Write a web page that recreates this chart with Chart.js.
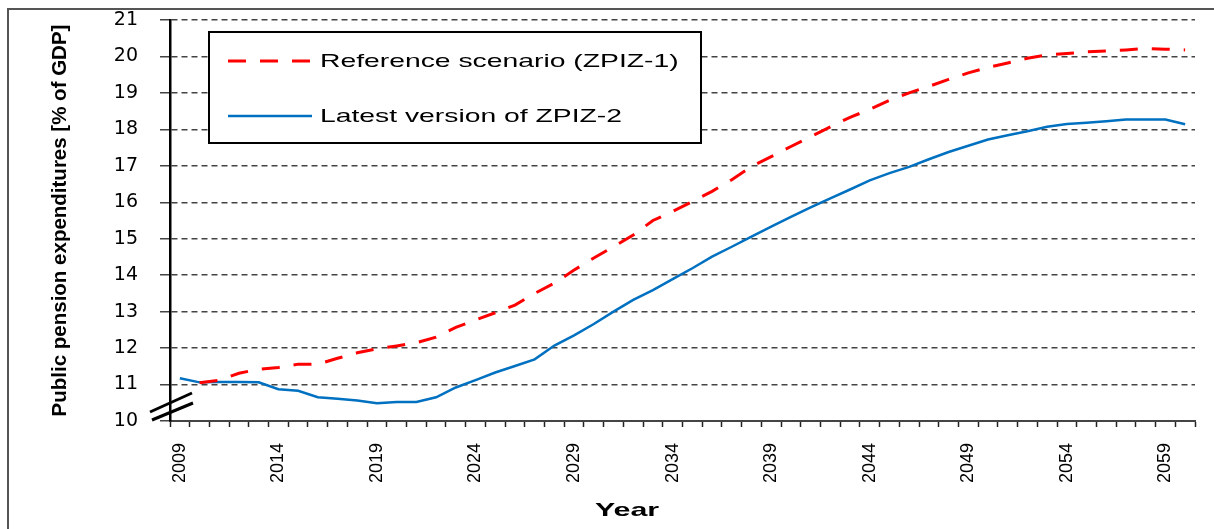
<!DOCTYPE html>
<html>
<head>
<meta charset="utf-8">
<title>Public pension expenditures</title>
<script src="https://cdn.jsdelivr.net/npm/chart.js@4.4.1/dist/chart.umd.min.js"></script>
<style>
    body { margin: 0; background: #fff; }
    canvas { display: block; }
</style>
</head>
<body>
<canvas id="pensionChart" width="1214" height="529"></canvas>
<script>
// Category axis: one entry per year
const years = [
    '2009', '2010', '2011', '2012', '2013', '2014', '2015', '2016', '2017', '2018',
    '2019', '2020', '2021', '2022', '2023', '2024', '2025', '2026', '2027', '2028',
    '2029', '2030', '2031', '2032', '2033', '2034', '2035', '2036', '2037', '2038',
    '2039', '2040', '2041', '2042', '2043', '2044', '2045', '2046', '2047', '2048',
    '2049', '2050', '2051', '2052', '2053', '2054', '2055', '2056', '2057', '2058',
    '2059', '2060'
];

// Only every fifth year gets a label
const labelledYears = ['2009', '2014', '2019', '2024', '2029', '2034', '2039', '2044', '2049', '2054', '2059'];

// Reference scenario (ZPIZ-1), % of GDP
const referenceScenario = [
    null, 11.05, 11.12, 11.31, 11.42, 11.47, 11.56, 11.56, 11.72, 11.87,
    11.98, 12.06, 12.15, 12.30, 12.57, 12.77, 12.97, 13.18, 13.50, 13.78,
    14.14, 14.47, 14.78, 15.10, 15.50, 15.75, 16.02, 16.30, 16.62, 16.98,
    17.25, 17.53, 17.80, 18.07, 18.33, 18.55, 18.80, 19.00, 19.18, 19.37,
    19.55, 19.70, 19.82, 19.95, 20.04, 20.08, 20.13, 20.15, 20.18, 20.22,
    20.20, 20.18
];

// Latest version of ZPIZ-2, % of GDP
const latestVersion = [
    11.17, 11.06, 11.07, 11.07, 11.06, 10.87, 10.83, 10.65, 10.61, 10.56,
    10.49, 10.52, 10.52, 10.65, 10.92, 11.12, 11.33, 11.51, 11.69, 12.07,
    12.35, 12.66, 13.00, 13.32, 13.59, 13.89, 14.19, 14.51, 14.78, 15.06,
    15.33, 15.60, 15.86, 16.11, 16.35, 16.60, 16.80, 16.97, 17.18, 17.38,
    17.55, 17.72, 17.84, 17.95, 18.07, 18.15, 18.18, 18.22, 18.27, 18.27,
    18.27, 18.14
];

const seriesNames = ['Reference scenario (ZPIZ-1)', 'Latest version of ZPIZ-2'];
const xTitle = 'Year';

Chart.defaults.font.family = "'Liberation Sans', Arial, sans-serif";
Chart.defaults.color = '#000';

// Draws text stretched horizontally, like the wide lettering in the original
function drawWideText(ctx, text, x, y, sx) {
    ctx.save();
    ctx.translate(x, y);
    ctx.scale(sx, 1);
    ctx.fillText(text, 0, 0);
    ctx.restore();
}

// Frame, axis break marks, x title and the boxed legend inside the plot
const decorations = {
    id: 'decorations',
    afterDraw(chart) {
        const ctx = chart.ctx;
        const area = chart.chartArea;
        ctx.save();

        // outer frame (only top and left edges are inside the picture)
        ctx.strokeStyle = '#555';
        ctx.lineWidth = 2;
        ctx.beginPath();
        ctx.moveTo(8, chart.height);
        ctx.lineTo(8, 9);
        ctx.lineTo(chart.width, 9);
        ctx.stroke();

        // "//" break on the y axis
        ctx.strokeStyle = '#000';
        ctx.lineWidth = 3;
        ctx.beginPath();
        ctx.moveTo(area.left - 20, area.bottom - 9);
        ctx.lineTo(area.left + 22, area.bottom - 28);
        ctx.moveTo(area.left - 18, area.bottom - 1);
        ctx.lineTo(area.left + 23, area.bottom - 18);
        ctx.stroke();

        // x axis title, centred on the whole figure like the original
        ctx.fillStyle = '#000';
        ctx.font = "bold 19px 'Liberation Sans', Arial, sans-serif";
        ctx.textBaseline = 'middle';
        ctx.textAlign = 'center';
        drawWideText(ctx, xTitle, 627, 511, 1.6);

        // legend box
        const bx = area.left + 39, by = area.top + 12, bw = 492, bh = 111;
        ctx.fillStyle = '#fff';
        ctx.fillRect(bx, by, bw, bh);
        ctx.strokeStyle = '#000';
        ctx.lineWidth = 2;
        ctx.strokeRect(bx, by, bw, bh);

        const rows = [by + 29, by + 84];
        chart.data.datasets.forEach((ds, i) => {
            const y = rows[i];
            ctx.strokeStyle = ds.borderColor;
            ctx.lineWidth = ds.borderWidth;
            ctx.setLineDash(ds.borderDash || []);
            ctx.beginPath();
            ctx.moveTo(bx + 19, y);
            ctx.lineTo(bx + 103, y);
            ctx.stroke();
            ctx.setLineDash([]);

            ctx.fillStyle = '#000';
            ctx.font = "18.5px 'Liberation Sans', Arial, sans-serif";
            ctx.textBaseline = 'middle';
            ctx.textAlign = 'left';
            drawWideText(ctx, ds.label, bx + 111, y + 1, 1.53);
        });

        ctx.restore();
    }
};

new Chart(document.getElementById('pensionChart'), {
    type: 'line',
    data: {
        labels: years,
        datasets: [{
            label: seriesNames[0],
            data: referenceScenario,
            borderColor: '#ff0000',
            borderWidth: 3,
            borderDash: [18, 14],
            pointRadius: 0,
            tension: 0,
            spanGaps: true
        }, {
            label: seriesNames[1],
            data: latestVersion,
            borderColor: '#0070c0',
            borderWidth: 2.5,
            pointRadius: 0,
            tension: 0
        }]
    },
    options: {
        responsive: false,
        animation: false,
        layout: { padding: { top: 20, right: 19, bottom: 0, left: 0 } },
        plugins: {
            legend: { display: false },
            tooltip: { enabled: false }
        },
        scales: {
            x: {
                type: 'category',
                offset: true,
                afterFit: scale => {
                    scale.height = 108;
                    scale.paddingLeft = 0;
                    scale.paddingRight = 0;
                },
                grid: {
                    offset: true,
                    drawOnChartArea: false,
                    drawTicks: true,
                    tickLength: 6,
                    tickColor: '#222',
                    tickWidth: 1.5
                },
                border: { display: true, color: '#444', width: 2 },
                ticks: {
                    autoSkip: false,
                    minRotation: 90,
                    maxRotation: 90,
                    padding: 16,
                    font: { size: 18 },
                    callback: function(value, index) {
                        const year = years[index];
                        return labelledYears.includes(year) ? year : '';
                    }
                }
            },
            y: {
                min: 10,
                max: 21,
                afterFit: scale => {
                    scale.width = 170;
                    scale.paddingTop = 0;
                    scale.paddingBottom = 0;
                },
                grid: {
                    color: '#444',
                    lineWidth: 1.5,
                    drawTicks: true,
                    tickLength: 10,
                    tickColor: '#444'
                },
                border: { display: true, color: '#000', width: 2.5, dash: [6, 4] },
                ticks: {
                    stepSize: 1,
                    padding: 22,
                    font: { family: "'DejaVu Sans', sans-serif", size: 19 }
                },
                title: {
                    display: true,
                    text: 'Public pension expenditures [% of GDP]',
                    font: { size: 20.5, weight: 'bold' },
                    padding: { top: 48, bottom: 0 }
                }
            }
        }
    },
    plugins: [decorations]
});
</script>
</body>
</html>
